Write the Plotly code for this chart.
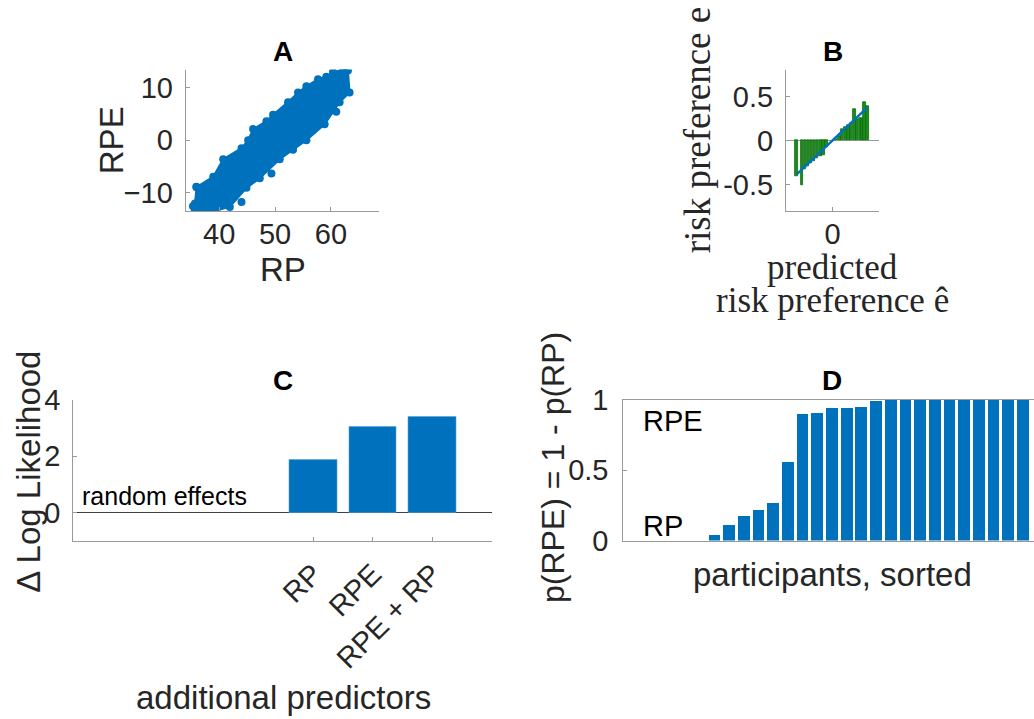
import plotly.graph_objects as go

W, H = 1034, 719

# ---------------- data ----------------
# Panel A: outline of the dense RP/RPE point cloud and a few stray points
cloud_rp = [35.65, 35.95, 38.93, 40.71, 43.99, 45.18, 46.07, 48.45, 49.64, 52.32, 54.11,
            55.6, 57.68, 59.17, 60.36, 62.14, 63.04, 63.33, 61.55, 58.87, 55.6, 53.21,
            50.83, 47.26, 44.88, 41.9, 39.52, 37.74, 35.65]
cloud_rpe = [-12.1, -8.97, -6.97, -3.64, -1.52, 0.0, 2.12, 3.64, 4.85, 7.27, 9.09,
             10.3, 11.64, 12.12, 13.03, 13.4, 13.33, 9.09, 7.27, 3.03, 0.0, -1.82,
             -3.64, -7.27, -9.09, -12.73, -13.4, -13.4, -13.33]
stray_rp = [35.9, 43.99, 49.35, 60.95, 35.3, 36.2, 56.5, 46.5]
stray_rpe = [-8.9, -11.8, -6.36, 5.45, -12.6, -13.2, 8.2, -4.2]

# Panel B: binned observed vs predicted risk preference
b_pred = [-0.77, -0.66, -0.59, -0.53, -0.46, -0.40, -0.33, -0.26, -0.19, -0.125,
          0.075, 0.15, 0.20, 0.275, 0.34, 0.40, 0.47, 0.53, 0.59, 0.64, 0.69, 0.75]
b_obs = [-0.40, -0.51, -0.32, -0.29, -0.26, -0.24, -0.20, -0.18, -0.17, -0.08,
         0.02, 0.05, 0.13, 0.15, 0.17, 0.20, 0.355, 0.24, 0.25, 0.26, 0.44, 0.39]
fit_x = [-0.77, 0.75]
fit_y = [-0.385, 0.377]

# Panel C: model comparison
c_labels = ["RP", "RPE", "RPE + RP"]
c_pos = [5, 6, 7]
c_vals = [1.88, 3.03, 3.39]

# Panel D: posterior model probability per participant (sorted)
d_vals = [0, 0, 0, 0, 0, 0, 0.038, 0.11, 0.174, 0.215, 0.27, 0.56, 0.90, 0.91,
          0.94, 0.943, 0.95, 0.99, 1, 1, 1, 1, 1, 1, 1, 1, 1, 1]
d_idx = list(range(1, len(d_vals) + 1))

BLUE = "#0072BD"
GREEN = "#1c8c1c"
AX = "#9a9a9a"
TXT = "#262626"
SANS = "Liberation Sans, Arial, sans-serif"
SERIF = "Liberation Serif, Times New Roman, serif"

fig = go.Figure()

# Panel A
fig.add_trace(go.Scatter(x=cloud_rp, y=cloud_rpe, mode="lines+markers", fill="toself",
                         fillcolor=BLUE, line=dict(color=BLUE, width=2),
                         marker=dict(color=BLUE, size=8), xaxis="x", yaxis="y",
                         hoverinfo="skip", showlegend=False))
fig.add_trace(go.Scatter(x=stray_rp, y=stray_rpe, mode="markers",
                         marker=dict(color=BLUE, size=8), xaxis="x", yaxis="y",
                         showlegend=False))

# Panel B
fig.add_trace(go.Bar(x=b_pred, y=b_obs, width=0.055, marker=dict(color=GREEN,
                     line=dict(color="#0b6b0b", width=0.8)), xaxis="x2", yaxis="y2",
                     showlegend=False))
fig.add_trace(go.Scatter(x=fit_x, y=fit_y, mode="lines", line=dict(color=BLUE, width=2.4),
                         xaxis="x2", yaxis="y2", showlegend=False))

# Panel C
fig.add_trace(go.Bar(x=c_pos, y=c_vals, width=0.8, marker=dict(color=BLUE,
                     line=dict(color="#5aa0d6", width=0.6)), xaxis="x3", yaxis="y3",
                     showlegend=False))

# Panel D
fig.add_trace(go.Bar(x=d_idx, y=d_vals, width=0.8, marker=dict(color=BLUE,
                     line=dict(width=0)), xaxis="x4", yaxis="y4",
                     showlegend=False))


def px(x):
    return x / W


def py(y):
    return 1 - y / H


tickfont = dict(family=SANS, size=29, color=TXT)
common = dict(showline=True, linecolor=AX, linewidth=1, ticks="inside", ticklen=4,
              tickcolor=AX, showgrid=False, zeroline=False, tickfont=tickfont)


def without(*keys):
    return {k: v for k, v in common.items() if k not in keys}


fig.update_layout(
    width=W, height=H, margin=dict(l=0, r=0, t=0, b=0),
    paper_bgcolor="white", plot_bgcolor="white", bargap=0,
    xaxis=dict(domain=[px(185.7), px(379)], range=[34, 68.6], tickvals=[40, 50, 60],
               anchor="y", ticklabelstandoff=-3, **common),
    yaxis=dict(domain=[py(204), py(56)], range=[-13.5, 13.5], tickvals=[-10, 0, 10],
               anchor="x", ticklabelstandoff=6, **common),
    xaxis2=dict(domain=[px(786), px(879)], range=[-1, 1], tickvals=[0], anchor="y2",
                ticklabelstandoff=-3, **common),
    yaxis2=dict(domain=[py(204), py(56.7)], range=[-0.8, 0.8], tickvals=[-0.5, 0, 0.5],
                ticktext=["-0.5", "0", "0.5"], anchor="x2", ticklabelstandoff=6,
                **without("zeroline"), zeroline=True, zerolinecolor=AX, zerolinewidth=1),
    xaxis3=dict(domain=[px(73.3), px(492)], range=[0.97, 8.0], tickvals=c_pos,
                ticktext=c_labels, tickangle=-45, anchor="y3", ticklabelstandoff=4,
                **common),
    yaxis3=dict(domain=[py(549), py(401.7)], range=[-1, 4], tickvals=[0, 2, 4],
                anchor="x3", ticklabelstandoff=6,
                **without("zeroline"), zeroline=True, zerolinecolor="#404040",
                zerolinewidth=1),
    xaxis4=dict(domain=[px(623.3), 1.0], range=[0.78, 28.73], showticklabels=False,
                anchor="y4", mirror=True, **without("ticks"), ticks=""),
    yaxis4=dict(domain=[py(549), py(401.7)], range=[0, 1], tickvals=[0, 0.5, 1],
                ticktext=["0", "0.5", "1"], anchor="x4", ticklabelstandoff=8, **common),
)

ann = []


def label(text, x, y, size=33, angle=0, family=SANS, bold=False, xanchor="center",
          yanchor="middle"):
    t = f"<b>{text}</b>" if bold else text
    ann.append(dict(text=t, x=px(x), y=py(y), xref="paper", yref="paper",
                    showarrow=False, textangle=angle, xanchor=xanchor, yanchor=yanchor,
                    font=dict(family=family, size=size, color="#000000" if bold else TXT)))


# titles
label("A", 282.5, 37, size=28, bold=True)
label("B", 833, 37, size=28, bold=True)
label("C", 283, 382, size=28, bold=True)
label("D", 832, 382, size=28, bold=True)

# panel A axis labels
label("RPE", 111, 130, angle=-90)
label("RP", 282.5, 265)

# panel B axis labels (serif, LaTeX-like)
label("risk preference e", 697, 251, size=37, angle=-90, family=SERIF, yanchor="bottom")
label("predicted", 832, 263, size=35, family=SERIF)
label("risk preference ê", 832, 298, size=35, family=SERIF)

# panel C labels
label("Δ Log Likelihood", 29, 477, angle=-90)
label("additional predictors", 283, 713)
ann.append(dict(text="random effects", x=1.08, y=0, xref="x3", yref="y3", showarrow=False,
                xanchor="left", yanchor="bottom", font=dict(family=SANS, size=25, color="#000")))

# panel D labels
label("p(RPE) = 1 - p(RP)", 553, 473, size=32, angle=-90)
label("participants, sorted", 832, 584)
ann.append(dict(text="RPE", x=2.0, y=0.85, xref="x4", yref="y4", showarrow=False,
                xanchor="left", yanchor="middle", font=dict(family=SANS, size=29, color="#000")))
ann.append(dict(text="RP", x=2.0, y=0.10, xref="x4", yref="y4", showarrow=False,
                xanchor="left", yanchor="middle", font=dict(family=SANS, size=29, color="#000")))

fig.update_layout(annotations=ann)

fig.write_html("out.html")
